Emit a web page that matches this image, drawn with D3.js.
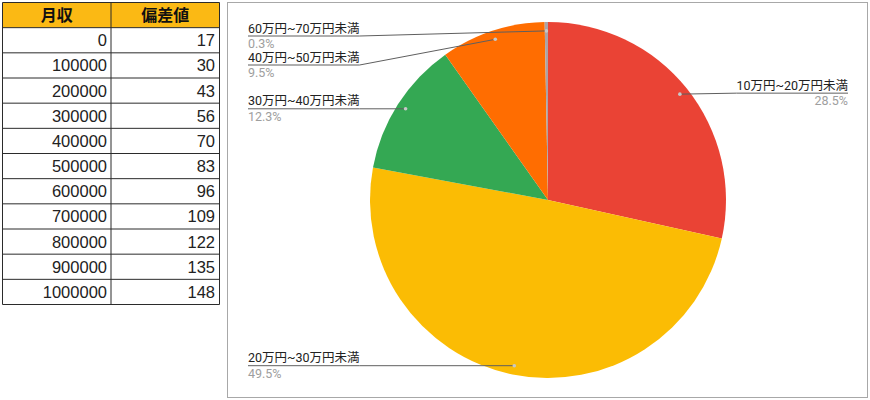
<!DOCTYPE html>
<html><head><meta charset="utf-8">
<script src="https://cdn.jsdelivr.net/npm/d3@7"></script>
<style>
html,body{margin:0;padding:0;background:#fff;}
svg{display:block;}
</style></head>
<body>
<svg id="c" width="870" height="400"></svg>
<script>
// ---- Data ----
const tableHeaders = ["月収", "偏差値"];
const incomes = [0, 100000, 200000, 300000, 400000, 500000, 600000, 700000, 800000, 900000, 1000000];
const deviations = [17, 30, 43, 56, 70, 83, 96, 109, 122, 135, 148];

const categories = ["10万円~20万円未満", "20万円~30万円未満", "30万円~40万円未満", "40万円~50万円未満", "60万円~70万円未満"];
const shares = [28.5, 49.5, 12.3, 9.5, 0.3];
const sliceColors = ["#EA4335", "#FBBC04", "#34A853", "#FF6D01", "#ABA3A7"];

const svg = d3.select("#c");

// ---- Table ----
const tX = d3.scaleOrdinal().domain([0, 1]).range([2.5, 111]);
const tW = [108.5, 108.5];
const rows = d3.range(incomes.length + 1);
const tY = d3.scaleBand().domain(rows).range([2.5, 304.5]);
const tbl = svg.append("g");
tbl.append("rect").attr("x", 2.5).attr("y", tY(0)).attr("width", 217).attr("height", tY.bandwidth())
  .attr("fill", "#FBB914");
rows.forEach(r => {
  tbl.append("line").attr("x1", 2.5).attr("x2", 219.5)
    .attr("y1", tY(r)).attr("y2", tY(r)).attr("stroke", "#2b2b2b").attr("stroke-width", 1);
});
tbl.append("line").attr("x1", 2.5).attr("x2", 219.5).attr("y1", 304.5).attr("y2", 304.5).attr("stroke", "#2b2b2b");
[2.5, 111, 219.5].forEach(x => tbl.append("line").attr("x1", x).attr("x2", x)
  .attr("y1", 2.5).attr("y2", 304.5).attr("stroke", "#2b2b2b").attr("stroke-width", 1));
tableHeaders.forEach((h, i) => {
  tbl.append("text").attr("x", tX(i) + tW[i] / 2).attr("y", tY(0) + tY.bandwidth() / 2 + 6)
    .attr("text-anchor", "middle").attr("font-family", "'Noto Sans CJK JP', sans-serif")
    .attr("font-weight", "bold").attr("font-size", 16).attr("fill", "#111").text(h);
});
incomes.forEach((v, i) => {
  const y = tY(i + 1) + tY.bandwidth() / 2 + 6;
  tbl.append("text").attr("x", 107).attr("y", y).attr("text-anchor", "end")
    .attr("font-family", "'Liberation Sans', Arial, sans-serif").attr("font-size", 16.5).attr("fill", "#222").text(v);
  tbl.append("text").attr("x", 215).attr("y", y).attr("text-anchor", "end")
    .attr("font-family", "'Liberation Sans', Arial, sans-serif").attr("font-size", 16.5).attr("fill", "#222").text(deviations[i]);
});

// ---- Chart frame ----
svg.append("rect").attr("x", 227.5).attr("y", 2.5).attr("width", 640).attr("height", 395)
  .attr("fill", "#fff").attr("stroke", "#a8a8a8");

// ---- Pie ----
const cx = 548, cy = 200, R = 178;
const pie = d3.pie().sort(null).value(d => d.v);
const data = pie(categories.map((c, i) => ({ c, v: shares[i], col: sliceColors[i] })));
const arc = d3.arc().innerRadius(0).outerRadius(R);
const dotArc = d3.arc().innerRadius(R * 0.95).outerRadius(R * 0.95);
const g = svg.append("g").attr("transform", `translate(${cx},${cy})`);
g.selectAll("path").data(data).join("path")
  .attr("d", arc).attr("fill", d => d.data.col);

// ---- Labels ----
const fontF = "Roboto, 'Noto Sans CJK JP', sans-serif";
const labels = data.map(d => {
  const [dx, dy] = dotArc.centroid(d);
  return { d, dx: cx + dx, dy: cy + dy, right: dx > 0 };
});
const minY = cy - R + 14;
const leftL = labels.filter(l => !l.right).sort((a, b) => a.dy - b.dy);
let prev = -Infinity;
leftL.forEach(l => { l.y = Math.max(l.dy, prev + 29, minY); prev = l.y; });
const rightL = labels.filter(l => l.right).sort((a, b) => a.dy - b.dy);
prev = -Infinity;
rightL.forEach(l => { l.y = Math.max(l.dy - 1, prev + 29, minY); prev = l.y; });

const lg = svg.append("g");
labels.forEach(l => {
  const tx = l.right ? 848 : 248;
  const anchor = l.right ? "end" : "start";
  const t = lg.append("text").attr("x", tx).attr("y", l.y - 3.5).attr("text-anchor", anchor)
    .attr("font-family", fontF).attr("font-size", 12.5).attr("fill", "#222").text(l.d.data.c);
  const w = t.node().getComputedTextLength();
  lg.append("text").attr("x", tx).attr("y", l.y + 12).attr("text-anchor", anchor)
    .attr("font-family", fontF).attr("font-size", 12.5).attr("fill", "#9e9e9e").text(l.d.data.v + "%");
  let pts;
  if (l.right) pts = [[l.dx, l.dy], [tx - w, l.y], [tx, l.y]];
  else pts = [[tx, l.y], [tx + w, l.y], [l.dx, l.dy]];
  lg.append("path").attr("d", d3.line()(pts)).attr("fill", "none")
    .attr("stroke", "#5f5f5f").attr("stroke-width", 1);
  lg.append("circle").attr("cx", l.dx).attr("cy", l.dy).attr("r", 1.8).attr("fill", "#c8c8c8");
});
</script>
</body></html>
